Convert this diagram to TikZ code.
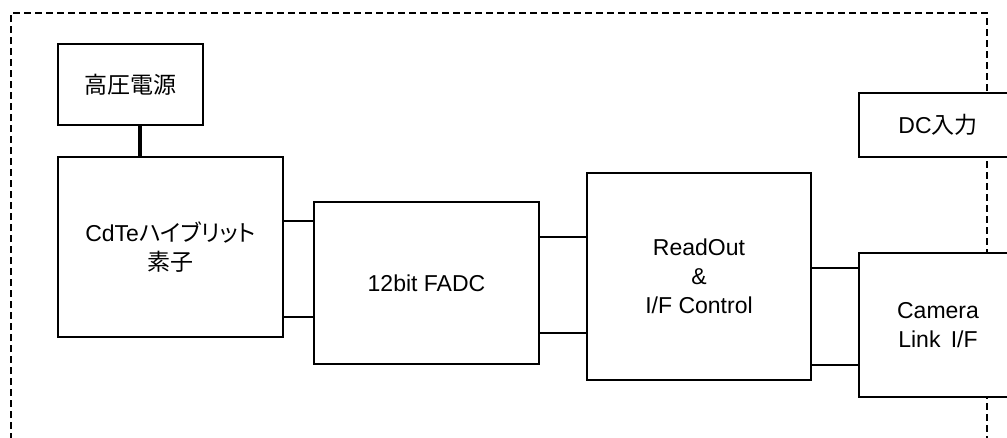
\documentclass[tikz,border=0pt]{standalone}
\usepackage{fontspec}
\setmainfont{Liberation Sans}
\newfontfamily\jp{Noto Sans CJK JP}
\newfontfamily\jpp[RawFeature=+palt]{Noto Sans CJK JP}
\begin{document}
\begin{tikzpicture}[x=1pt,y=-1pt,
  blk/.style={draw, line width=1.3pt, fill=white, rectangle, align=center,
    inner sep=0pt, font=\fontsize{23}{29}\selectfont},
  conn/.style={line width=1.3pt},
  hvline/.style={line width=4pt},
  frame/.style={line width=1.3pt, dash pattern=on 7pt off 4pt}]
\useasboundingbox (0,0) rectangle (1007,437);
\clip (0,0) rectangle (1007,437);
\fill[white] (0,0) rectangle (1007,437);
\draw[frame] (11,440) -- (11,13) -- (987,13) -- (987,440);
\node[blk, minimum width=145pt, minimum height=81pt] (hv) at (130.5,84.5) {\jp 高圧電源};
\node[blk, minimum width=225pt, minimum height=180pt] (cdte) at (170.5,247) {CdTe{\jpp ハイブリット}\\{\jp 素子}};
\node[blk, minimum width=225pt, minimum height=162pt] (fadc) at (426.5,283) {12bit FADC};
\node[blk, minimum width=224pt, minimum height=207pt] (ro) at (699,276.5) {ReadOut\\\&\\I/F Control};
\node[blk, minimum width=158pt, minimum height=64pt] (dc) at (938,125) {DC{\jp 入力}};
\node[blk, minimum width=158pt, minimum height=144pt] (cam) at (938,325) {Camera\\Link\hspace{0.45em}I/F};
\draw[hvline] (hv.south -| 140,0) -- (cdte.north -| 140,0);
\draw[conn] (cdte.east |- 0,221) -- (fadc.west |- 0,221);
\draw[conn] (cdte.east |- 0,317) -- (fadc.west |- 0,317);
\draw[conn] (fadc.east |- 0,237) -- (ro.west |- 0,237);
\draw[conn] (fadc.east |- 0,333) -- (ro.west |- 0,333);
\draw[conn] (ro.east |- 0,268) -- (cam.west |- 0,268);
\draw[conn] (ro.east |- 0,365) -- (cam.west |- 0,365);
\end{tikzpicture}
\end{document}
